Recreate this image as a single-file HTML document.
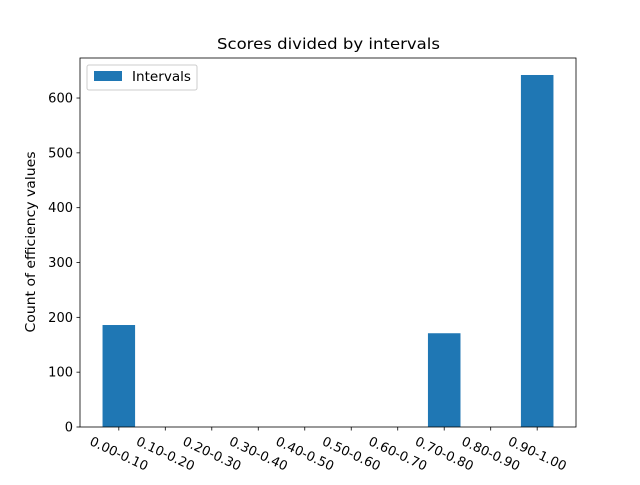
<!DOCTYPE html>
<html><head><meta charset="utf-8"><style>
body{margin:0;background:#fff}
svg text{font-family:"DejaVu Sans","Liberation Sans",sans-serif;fill:#000}
</style></head><body>
<svg id="chart" width="640" height="480" xmlns="http://www.w3.org/2000/svg">
<rect width="640" height="480" fill="#fff"/>
<text x="328.5" y="49" font-size="15.5" text-anchor="middle" textLength="223" lengthAdjust="spacingAndGlyphs">Scores divided by intervals</text>
<text transform="translate(35,242) rotate(-90)" font-size="13" text-anchor="middle" textLength="181" lengthAdjust="spacingAndGlyphs">Count of efficiency values</text>
<g id="bars"></g><g id="yticks"></g><g id="xticks"></g>
<rect x="80" y="58" width="496" height="369" fill="none" stroke="#000" stroke-width="0.8"/>
<g>
<rect x="87" y="65" width="110" height="25" rx="2" fill="#fff" stroke="#ccc"/>
<rect x="94" y="71" width="28" height="10" fill="#1f77b4"/>
<text x="132" y="81" font-size="13" textLength="59" lengthAdjust="spacingAndGlyphs">Intervals</text>
</g>
</svg>
<script>
const categories=["0.00-0.10","0.10-0.20","0.20-0.30","0.30-0.40","0.40-0.50","0.50-0.60","0.60-0.70","0.70-0.80","0.80-0.90","0.90-1.00"];
const values=[186,0,0,0,0,0,0,171,0,642];
const yTicks=[0,100,200,300,400,500,600];
const NS="http://www.w3.org/2000/svg";
const x0=80,x1=576,yb=427,yt=58;
const xmin=-0.835,xmax=9.835,ymax=673;
const xs=v=>x0+(v-xmin)/(xmax-xmin)*(x1-x0);
const ys=v=>yb-v/ymax*(yb-yt);
const bw=0.7;
function mk(t,a){const e=document.createElementNS(NS,t);for(const k in a)e.setAttribute(k,a[k]);return e;}
const gb=document.getElementById('bars'),gy=document.getElementById('yticks'),gx=document.getElementById('xticks');
values.forEach((v,i)=>{
 const r=mk('rect',{x:xs(i-bw/2),y:ys(v),width:xs(i+bw/2)-xs(i-bw/2),height:yb-ys(v),fill:'#1f77b4'});
 
 
 gb.appendChild(r);
});
yTicks.forEach(t=>{
 const y=ys(t);
 const l=mk('line',{x1:x0-3.5,x2:x0,y1:y,y2:y,stroke:'#000','stroke-width':0.8});
 
 
 gy.appendChild(l);
 const tx=mk('text',{x:x0-7,y:y+4.5,'font-size':13,'text-anchor':'end'});
 
 
 tx.textContent=t;gy.appendChild(tx);
});
categories.forEach((c,i)=>{
 const x=xs(i);
 const l=mk('line',{x1:x,x2:x,y1:yb,y2:yb+3.5,stroke:'#000','stroke-width':0.8});
 
 
 gx.appendChild(l);
 const tx=mk('text',{x:0,y:4,'font-size':13,'text-anchor':'middle',transform:`translate(${x},${yb+27}) rotate(25)`});
 
 
 tx.textContent=c;gx.appendChild(tx);
});
</script>
</body></html>
